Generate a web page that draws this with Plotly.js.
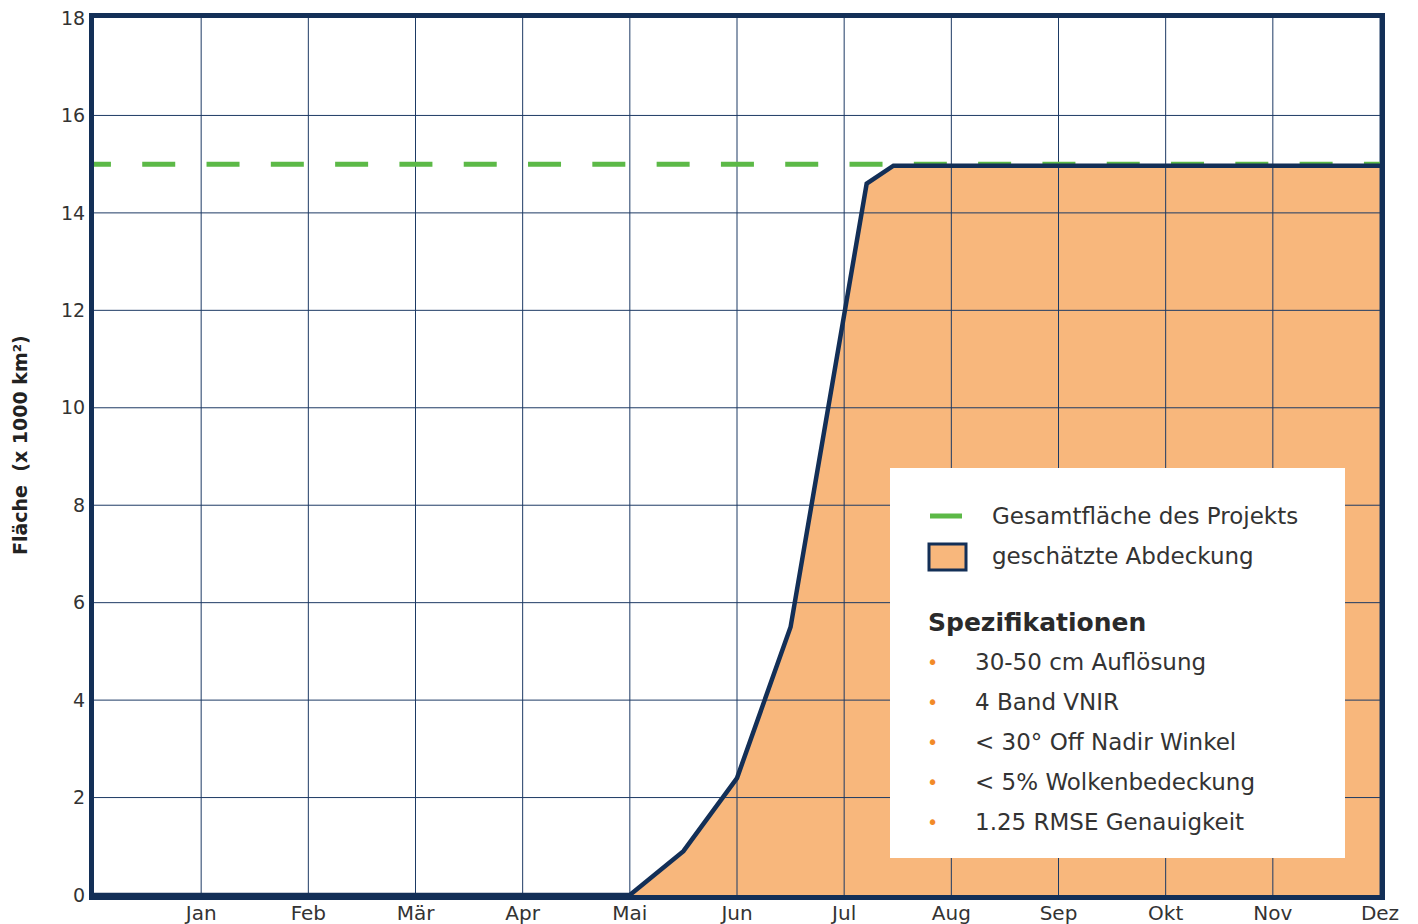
<!DOCTYPE html>
<html>
<head>
<meta charset="utf-8">
<script src="https://cdn.plot.ly/plotly-3.0.1.min.js"></script>
<style>html,body{margin:0;padding:0;background:#fff;}#chart{width:1418px;height:924px;}</style>
</head>
<body>
<div id="chart"></div>
<script>
// Month categories (index positions 0..11)
const months = ['Jan','Feb','Mär','Apr','Mai','Jun','Jul','Aug','Sep','Okt','Nov','Dez'];
const monthPos = [0,1,2,3,4,5,6,7,8,9,10,11];
// Estimated coverage (x 1000 km²) at month positions
const coverageX = [-1, 4, 4.5, 5, 5.5, 6.21, 6.46, 7, 8, 9, 10, 11];
const coverageY = [0, 0, 0.9, 2.4, 5.5, 14.6, 14.97, 14.97, 14.97, 14.97, 14.97, 14.97];
// Total project area
const totalX = [-1.15, 11];
const totalY = [15, 15];
const yTicks = [0,2,4,6,8,10,12,14,16,18];
const yTitle = 'Fläche\u00a0 (x 1000 km²)';
const legendItems = ['Gesamtfläche des Projekts', 'geschätzte Abdeckung'];
const specTitle = 'Spezifikationen';
const specs = ['30-50 cm Auflösung', '4 Band VNIR', '< 30° Off Nadir Winkel', '< 5% Wolkenbedeckung', '1.25 RMSE Genauigkeit'];

const navy = '#132f57';
const orange = '#f8b77c';
const green = '#5cb947';
const txt = '#333333';
const FONT = 'DejaVu Sans, sans-serif';

// grid trace from tick arrays
const gx = [], gy = [];
monthPos.forEach(v => { gx.push(v, v, null); gy.push(0, 18, null); });
yTicks.slice(1, -1).forEach(v => { gx.push(-1, 11, null); gy.push(v, v, null); });

const traces = [
  {x: coverageX, y: coverageY, type: 'scatter', mode: 'lines', fill: 'tozeroy',
   fillcolor: orange, line: {width: 0, color: 'rgba(0,0,0,0)'}, hoverinfo: 'skip', showlegend: false},
  {x: gx, y: gy, type: 'scatter', mode: 'lines', line: {color: '#1d3a64', width: 1},
   hoverinfo: 'skip', showlegend: false, connectgaps: false},
  {x: totalX, y: totalY, type: 'scatter', mode: 'lines', name: legendItems[0],
   line: {color: green, width: 5, dash: '33px,31.3px'}, showlegend: false},
  {x: coverageX, y: coverageY, type: 'scatter', mode: 'lines', name: legendItems[1],
   line: {color: navy, width: 4.5}, showlegend: false}
];

// legend box geometry in pixels -> paper conversion
const L = 94, R = 1380, T = 18, B = 895;
const px = v => (v - L) / (R - L);
const py = v => (B - v) / (B - T);

const shapes = [
  {type: 'rect', xref: 'paper', yref: 'paper', x0: px(890), x1: px(1345), y0: py(858), y1: py(468),
   fillcolor: '#ffffff', line: {width: 0}, layer: 'above'},
  {type: 'line', xref: 'paper', yref: 'paper', x0: px(930), x1: px(962), y0: py(516), y1: py(516),
   line: {color: green, width: 5}, layer: 'above'},
  {type: 'rect', xref: 'paper', yref: 'paper', x0: px(929), x1: px(966), y0: py(570), y1: py(544),
   fillcolor: orange, line: {color: navy, width: 3}, layer: 'above'}
];

const annotations = [
  {xref: 'paper', yref: 'paper', x: px(20), y: py(445), xanchor: 'center', yanchor: 'middle', textangle: -90,
   text: '<b>' + yTitle + '</b>', showarrow: false, font: {family: FONT, size: 19, color: '#222'}},
  {xref: 'paper', yref: 'paper', x: px(990), y: py(516), xanchor: 'left', yanchor: 'middle',
   text: legendItems[0], showarrow: false, font: {family: FONT, size: 23, color: txt}},
  {xref: 'paper', yref: 'paper', x: px(990), y: py(556), xanchor: 'left', yanchor: 'middle',
   text: legendItems[1], showarrow: false, font: {family: FONT, size: 23, color: txt}},
  {xref: 'paper', yref: 'paper', x: px(926), y: py(622), xanchor: 'left', yanchor: 'middle',
   text: '<b>' + specTitle + '</b>', showarrow: false, font: {family: FONT, size: 25, color: '#2a2a2a'}}
];
specs.forEach((s, i) => {
  const yy = 662 + i * 40;
  annotations.push({xref: 'paper', yref: 'paper', x: px(932), y: py(yy), xanchor: 'center', yanchor: 'middle',
    text: '•', showarrow: false, font: {family: FONT, size: 19, color: '#f28a28'}});
  annotations.push({xref: 'paper', yref: 'paper', x: px(973), y: py(yy), xanchor: 'left', yanchor: 'middle',
    text: s.replace(/</g, '&lt;'), showarrow: false, font: {family: FONT, size: 23, color: txt}});
});

const layout = {
  width: 1418, height: 924,
  margin: {l: L, r: 1418 - R, t: T, b: 924 - B},
  paper_bgcolor: '#ffffff', plot_bgcolor: '#ffffff',
  showlegend: false,
  xaxis: {range: [-1, 11], tickvals: monthPos, ticktext: months, showgrid: false, zeroline: false,
    showline: true, mirror: true, linecolor: navy, linewidth: 5, layer: 'above traces',
    ticks: '', ticklabelstandoff: -4, tickfont: {family: FONT, size: 20, color: txt}, fixedrange: true},
  yaxis: {range: [0, 18], tickvals: yTicks, showgrid: false, zeroline: false,
    showline: true, mirror: true, linecolor: navy, linewidth: 5, layer: 'above traces',
    ticks: '', ticklen: 0, tickfont: {family: FONT, size: 19, color: txt},
    fixedrange: true},
  shapes: shapes,
  annotations: annotations
};

Plotly.newPlot('chart', traces, layout, {displayModeBar: false, staticPlot: true});
</script>
</body>
</html>
